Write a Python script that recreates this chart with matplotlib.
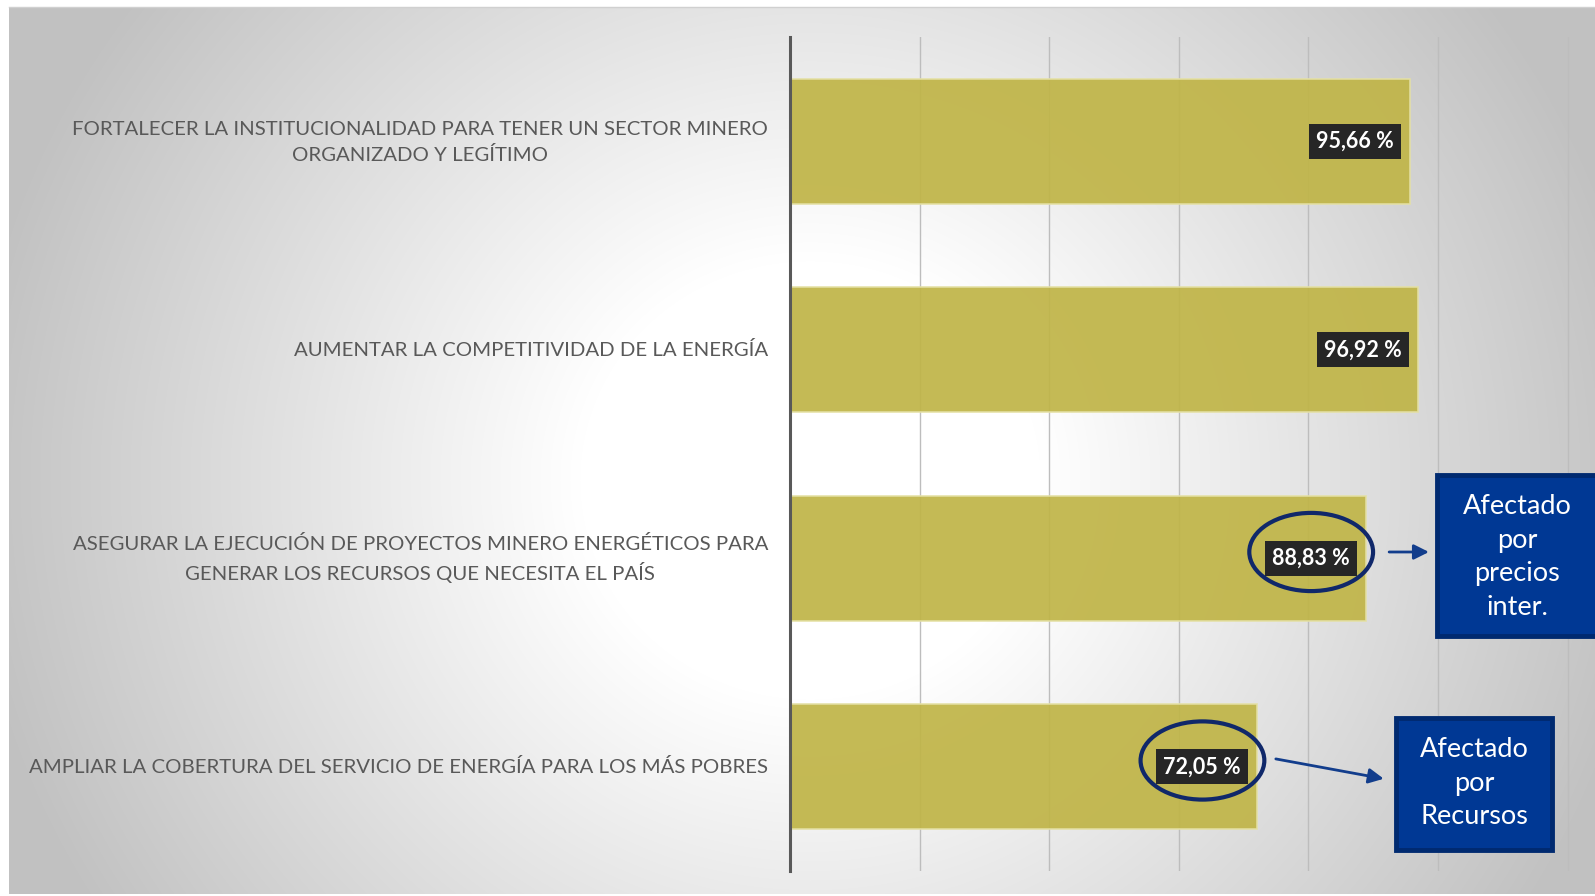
import numpy as np
import matplotlib
matplotlib.use("Agg")
import matplotlib.pyplot as plt
from matplotlib.patches import Ellipse, Rectangle
from matplotlib.transforms import ScaledTranslation

# objectives and percentage of compliance
categorias = [
    "FORTALECER LA INSTITUCIONALIDAD PARA TENER UN SECTOR MINERO\nORGANIZADO Y LEGÍTIMO",
    "AUMENTAR LA COMPETITIVIDAD DE LA ENERGÍA",
    "ASEGURAR LA EJECUCIÓN DE PROYECTOS MINERO ENERGÉTICOS PARA\nGENERAR LOS RECURSOS QUE NECESITA EL PAÍS",
    "AMPLIAR LA COBERTURA DEL SERVICIO DE ENERGÍA PARA LOS MÁS POBRES",
]
valores = [95.66, 96.92, 88.83, 72.05]
etiquetas = ["95,66 %", "96,92 %", "88,83 %", "72,05 %"]

# callouts: bar index -> note text
notas = {2: "Afectado\npor\nprecios\ninter.", 3: "Afectado\npor\nRecursos"}

plt.rcParams["font.family"] = ["Lato", "DejaVu Sans"]

W, H = 1595, 896
fig = plt.figure(figsize=(W / 100, H / 100), dpi=100)
fig.patch.set_facecolor("white")

# radial grey-to-white background panel
bg = fig.add_axes([0, 0, 1, 1], zorder=0)
bg.set_xlim(0, W)
bg.set_ylim(H, 0)
bg.axis("off")
xx, yy = np.meshgrid(np.arange(9, W), np.arange(7, 894))
d = np.hypot(xx - 810, (yy - 480) * 1.05)
g = 255 - 62 * np.clip((d - 230) / 620, 0, 1)
img = np.dstack([g, g, g]).astype(np.uint8)
bg.imshow(img, extent=(9, W, 894, 7), interpolation="bilinear")
bg.plot([9, W], [7.5, 7.5], color="#d0d0d0", lw=1)

x0, x1 = 790, W
y0, y1 = 37, 871
ax = fig.add_axes([x0 / W, 1 - y1 / H, (x1 - x0) / W, (y1 - y0) / H], zorder=1)
ax.patch.set_alpha(0)

pos = np.arange(len(valores))
ax.barh(pos, valores, height=0.6, color="#c0b548", alpha=0.93,
        edgecolor="#e4e0a4", linewidth=1.2, zorder=2)

ax.set_xlim(0, (x1 - x0) / 6.48)
ax.set_ylim(len(valores) - 0.5, -0.5)
ax.set_xticks(np.arange(20, 121, 20))
ax.xaxis.grid(True, color="#bdbdbd", lw=1.0, zorder=0)
ax.tick_params(axis="x", length=0, labelbottom=False)
ax.set_yticks(pos)
ax.tick_params(axis="y", length=0, labelleft=False)

# category labels, right aligned next to the axis line
for i, cat in enumerate(categorias):
    dy = -0.01 if "\n" in cat else 0
    tr = ax.get_yaxis_transform() + ScaledTranslation(-0.22, dy, fig.dpi_scale_trans)
    ax.text(0, i, cat, transform=tr, ha="right", va="center",
            multialignment="center", fontsize=14.7, color="#595959",
            linespacing=1.52)

for s in ["top", "right", "bottom"]:
    ax.spines[s].set_visible(False)
ax.spines["left"].set_color("#595959")
ax.spines["left"].set_linewidth(2.2)
ax.spines["left"].set_zorder(4)

# value labels in dark boxes near the end of each bar
for i, (v, t) in enumerate(zip(valores, etiquetas)):
    ax.annotate(t, xy=(v, i), xytext=(-11.5, 0), textcoords="offset points",
                ha="right", va="center", fontsize=15.5, fontweight="bold",
                color="white", zorder=5,
                bbox=dict(boxstyle="square,pad=0.33", fc="#262626", ec="none"))

azul = "#003894"
for i, txt in notas.items():
    v = valores[i]
    ax.add_patch(Ellipse((v - 8.4, i - 0.03), 19.1, 0.375, fill=False,
                         ec="#10286a", lw=3.0, zorder=6))
    if i == 2:
        ax.annotate("", xy=(v + 10.2, i - 0.03), xytext=(v + 3.2, i - 0.03),
                    arrowprops=dict(arrowstyle="-|>,head_length=0.9,head_width=0.45",
                                    color="#123d8c", lw=2.0), zorder=6)
        ax.add_patch(Rectangle((v + 11.0, i - 0.40), 40, 0.775,
                               fc=azul, ec="#002a70", lw=3.5, zorder=6))
        ax.text(v + 23.4, i - 0.006, txt, ha="center", va="center",
                fontsize=19.5, color="white", linespacing=1.42, zorder=7)
    else:
        ax.annotate("", xy=(v + 20.0, i + 0.06), xytext=(v + 2.5, i - 0.04),
                    arrowprops=dict(arrowstyle="-|>,head_length=0.9,head_width=0.45",
                                    color="#123d8c", lw=2.0), zorder=6)
        ax.add_patch(Rectangle((v + 21.5, i - 0.234), 24.0, 0.633,
                               fc=azul, ec="#002a70", lw=3.5, zorder=6))
        ax.text(v + 33.5, i + 0.078, txt, ha="center", va="center",
                fontsize=19.5, color="white", linespacing=1.42, zorder=7)

fig.savefig("out.png", dpi=100)
